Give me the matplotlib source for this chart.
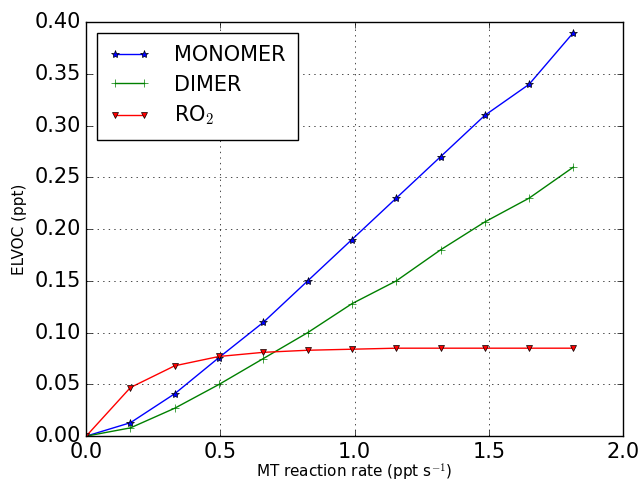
import matplotlib
matplotlib.use("Agg")
from matplotlib import pyplot as plt

plt.style.use("classic")

# data
rate = [0, 0.165, 0.33, 0.495, 0.66, 0.825, 0.99, 1.155, 1.32, 1.485, 1.65, 1.815]
monomer = [0, 0.013, 0.041, 0.076, 0.11, 0.15, 0.19, 0.23, 0.27, 0.31, 0.34, 0.39]
dimer = [0, 0.008, 0.027, 0.05, 0.075, 0.10, 0.128, 0.15, 0.18, 0.207, 0.23, 0.26]
ro2 = [0, 0.047, 0.068, 0.077, 0.081, 0.083, 0.084, 0.085, 0.085, 0.085, 0.085, 0.085]

fig = plt.figure(figsize=(6.43, 4.83), dpi=100, facecolor="white")
ax = fig.add_axes([0.134, 0.097, 0.835, 0.857])

ax.plot(rate, monomer, "b-*", markersize=6, label="MONOMER")
ax.plot(rate, dimer, "g-+", markersize=6, label="DIMER")
ax.plot(rate, ro2, "r-v", markersize=5, label="RO$_2$")

ax.set_xlim(0, 2.0)
ax.set_ylim(0, 0.4)
ax.set_xticks([0, 0.5, 1.0, 1.5, 2.0])
ax.set_yticks([0, 0.05, 0.1, 0.15, 0.2, 0.25, 0.3, 0.35, 0.4])
ax.tick_params(labelsize=15)
ax.grid(True)

ax.set_xlabel("MT reaction rate (ppt s$^{-1}$)", fontsize=11, labelpad=0)
ax.set_ylabel("ELVOC (ppt)", fontsize=11)

ax.legend(loc="upper left", fontsize=15, labelspacing=0.45,
          handletextpad=1.1, borderpad=0.6)

fig.savefig("out.png", dpi=100, facecolor="white")
